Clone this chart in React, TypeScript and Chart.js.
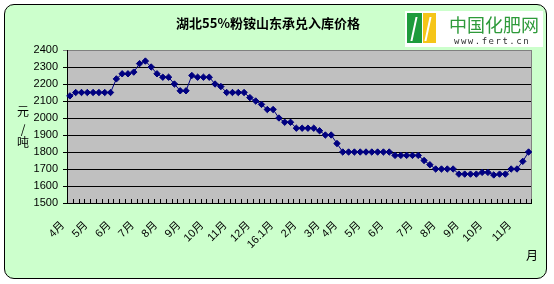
import React, { useEffect, useRef } from "react";
import { Chart, registerables } from "chart.js";
Chart.register(...registerables);

const chartTitle = "湖北55%粉铵山东承兑入库价格";
const yAxisTitle = ["元", "/", "吨"];
const xAxisTitle = "月";

// weekly prices (元/吨), April 2015 – November 2016
const prices = [
  2130, 2150, 2150, 2150, 2150, 2150, 2150, 2150, 2230, 2260,
  2260, 2270, 2320, 2335, 2300, 2260, 2240, 2240, 2200, 2160,
  2160, 2250, 2240, 2240, 2240, 2200, 2185, 2150, 2150, 2150,
  2150, 2120, 2100, 2080, 2050, 2050, 2000, 1975, 1975, 1940,
  1940, 1940, 1940, 1925, 1900, 1900, 1850, 1800, 1800, 1800,
  1800, 1800, 1800, 1800, 1800, 1800, 1780, 1780, 1780, 1780,
  1780, 1750, 1725, 1700, 1700, 1700, 1700, 1670, 1670, 1670,
  1670, 1680, 1680, 1665, 1670, 1670, 1700, 1700, 1745, 1800,
];

const monthIndex = [0, 4, 8, 12, 16, 20, 24, 28, 32, 36, 40, 44, 47, 51, 55, 60, 64, 68, 72, 77];
const monthNames = ["4月", "5月", "6月", "7月", "8月", "9月", "10月", "11月", "12月", "16.1月",
  "2月", "3月", "4月", "5月", "6月", "7月", "8月", "9月", "10月", "11月"];

const yMin = 1500;
const yMax = 2400;
const yStep = 100;

const categories = prices.map((_, i) => {
  const k = monthIndex.indexOf(i);
  return k >= 0 ? monthNames[k] : "";
});

const plotBg = {
  id: "plotBg",
  beforeDraw(chart: any) {
    const { ctx, chartArea: a } = chart;
    ctx.save();
    ctx.fillStyle = "#C0C0C0";
    ctx.fillRect(a.left, a.top, a.right - a.left, a.bottom - a.top);
    ctx.restore();
  },
  beforeDatasetsDraw(chart: any) {
    const { ctx, chartArea: a } = chart;
    const xs = chart.scales.x;
    ctx.save();
    ctx.strokeStyle = "#808080";
    ctx.lineWidth = 1;
    ctx.beginPath();
    ctx.moveTo(Math.round(a.right) + 0.5, a.top);
    ctx.lineTo(Math.round(a.right) + 0.5, a.bottom);
    ctx.stroke();
    // inside category tick marks on the x axis (category boundaries)
    ctx.strokeStyle = "#000";
    ctx.beginPath();
    const n = prices.length;
    for (let i = 0; i <= n; i++) {
      const x = Math.round(xs.getPixelForValue(i - 0.5)) + 0.5;
      const y = Math.round(a.bottom);
      ctx.moveTo(x, y);
      ctx.lineTo(x, y - 4);
    }
    ctx.stroke();
    ctx.restore();
  },
};

export default function App() {
  const ref = useRef<HTMLCanvasElement>(null);
  useEffect(() => {
    if (!ref.current) return;
    const chart = new Chart(ref.current, {
      type: "line",
      data: {
        labels: categories,
        datasets: [
          {
            data: prices,
            borderColor: "#000080",
            backgroundColor: "#000080",
            borderWidth: 1,
            pointStyle: "rectRot",
            pointRadius: 3.2,
            pointBorderWidth: 1,
            pointBackgroundColor: "#000080",
            pointBorderColor: "#000080",
            tension: 0,
          },
        ],
      },
      options: {
        animation: false,
        responsive: false,
        devicePixelRatio: 1,
        layout: { padding: { top: 50, right: 14, left: 0, bottom: 0 } },
        plugins: { legend: { display: false }, tooltip: { enabled: false }, title: { display: false } },
        scales: {
          x: {
            type: "category",
            offset: true,
            afterFit: (s: any) => { s.height = 81; },
            grid: {
              display: true,
              drawOnChartArea: false,
              drawTicks: false,
              offset: true,
              color: "#000",
            },
            border: { display: true, color: "#000", width: 1 },
            ticks: {
              autoSkip: false,
              minRotation: 45,
              maxRotation: 45,
              padding: 16,
              labelOffset: -7,
              color: "#000",
              font: { family: "'Liberation Sans', 'Noto Sans CJK SC'", size: 11 },
            },
          },
          y: {
            min: yMin,
            max: yMax,
            afterFit: (s: any) => { s.width = 67; },
            grid: {
              color: (c: any) => (c.tick && c.tick.value === yMax ? "#808080" : "#000"),
              drawTicks: true,
              tickLength: 4,
              lineWidth: 1,
            },
            border: { display: true, color: "#000", width: 1 },
            ticks: {
              stepSize: yStep,
              padding: 5,
              color: "#000",
              callback: (v: any) => String(v),
              font: { family: "'Liberation Sans', Arial", size: 11 },
            },
          },
        },
      },
      plugins: [plotBg],
    });
    return () => chart.destroy();
  }, []);

  return (
    <div style={{ position: "fixed", left: 0, top: 0, width: 554, height: 284, background: "#fff", overflow: "hidden" }}>
      <div style={{ position: "absolute", left: 4, top: 4, width: 541, height: 273, background: "#CCFFCC", border: "1px solid #000", borderRadius: 10 }} />
      <canvas ref={ref} width={554} height={284} style={{ position: "absolute", left: 0, top: 0, width: 554, height: 284 }} />
      <div style={{ position: "absolute", left: 168, width: 200, top: 14, textAlign: "center", fontFamily: "'Noto Sans CJK SC'", fontWeight: "bold", fontSize: 13, lineHeight: "18px", color: "#000" }}>{chartTitle}</div>
      {yAxisTitle.map((t, i) => (
        <div key={i} style={{ position: "absolute", left: 15, width: 16, top: [104, 122, 135][i], textAlign: "center", fontFamily: "'Noto Sans CJK SC'", fontSize: 12, lineHeight: "14px", color: "#000" }}>{t}</div>
      ))}
      <div style={{ position: "absolute", left: 526, top: 248, fontFamily: "'Noto Sans CJK SC'", fontSize: 12, lineHeight: "14px", color: "#000" }}>{xAxisTitle}</div>
      <div style={{ position: "absolute", left: 405, top: 11, width: 138, height: 36, background: "#fff" }}>
        <div style={{ position: "absolute", left: 2, top: 2, width: 15, height: 30, background: "#1E9B3C", overflow: "hidden" }}>
          <div style={{ position: "absolute", left: 6, top: 4, width: 2, height: 24, background: "#fff", transform: "skewX(-12deg)" }} />
        </div>
        <div style={{ position: "absolute", left: 18, top: 2, width: 13, height: 30, background: "#F5C518", overflow: "hidden" }}>
          <div style={{ position: "absolute", left: 4, top: 4, width: 2, height: 24, background: "#fff", transform: "skewX(-12deg)" }} />
        </div>
        <div style={{ position: "absolute", left: 44, top: 3, fontFamily: "'Noto Sans CJK SC'", fontSize: 18, lineHeight: "20px", color: "#2E9A3A", letterSpacing: 0 }}>中国化肥网</div>
        <div style={{ position: "absolute", left: 49, top: 25, fontFamily: "'DejaVu Sans Mono', monospace", fontSize: 9, lineHeight: "10px", color: "#333", letterSpacing: 1.5 }}>www.fert.cn</div>
      </div>
    </div>
  );
}
